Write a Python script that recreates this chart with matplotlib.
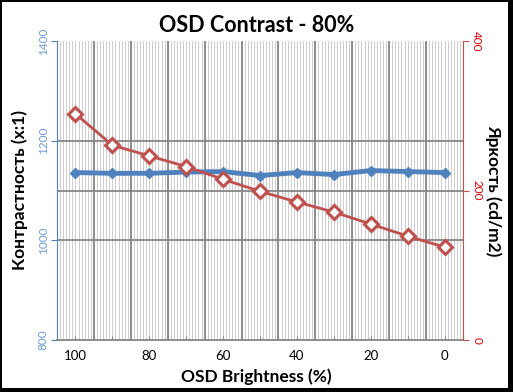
import numpy as np
import matplotlib.pyplot as plt
from matplotlib.patches import Rectangle
from matplotlib.ticker import FixedLocator

plt.rcParams['font.family'] = ['Lato', 'DejaVu Sans']

# data
brightness = [100, 90, 80, 70, 60, 50, 40, 30, 20, 10, 0]
contrast = [1136, 1134.5, 1134.5, 1137, 1138, 1130, 1136, 1132, 1140, 1138, 1136]
luminance = [302.6, 260.6, 246.3, 232, 215, 198.9, 184.6, 171.2, 155.1, 139, 124.3]
tick_labels = ['100', '', '80', '', '60', '', '40', '', '20', '', '0']

blue = '#4f81bd'
red = '#c0504d'
gridc = '#868686'

fig = plt.figure(figsize=(5.13, 3.92), dpi=100)
fig.patch.set_facecolor('black')
fig.patches.append(Rectangle((2 / 513, 4 / 392), 506 / 513, 386 / 392,
                             transform=fig.transFigure, facecolor='white',
                             edgecolor='none', zorder=-10))

ax = fig.add_axes([57 / 513, 1 - 340 / 392, 406 / 513, 299 / 392])
ax.set_facecolor('white')
x = np.arange(len(brightness))
ax.set_xlim(-0.5, len(x) - 0.5)
ax.set_ylim(800, 1400)

# dense light vertical lines + darker category separators
for xm in np.arange(-0.5, len(x) - 0.5, 1 / 12):
    ax.axvline(xm, color='#cdcdcd', lw=0.7, zorder=0)
for xb in np.arange(0.5, len(x) - 0.5, 1):
    ax.axvline(xb, color=gridc, lw=1.3, zorder=0.5)
for yg in [1000, 1100, 1200]:
    ax.axhline(yg, color=gridc, lw=1.3, zorder=0.5)

ax.plot(x, contrast, color=blue, lw=3.5, marker='D', ms=5.5, mfc=blue, mec=blue, zorder=3)

ax.set_xticks(x)
ax.set_xticklabels(tick_labels, fontsize=9.5)
ax.tick_params(axis='x', direction='in', length=3, color=gridc, pad=7)
ax.yaxis.set_major_locator(FixedLocator([800, 1000, 1200, 1400]))
ax.tick_params(axis='y', direction='out', length=4, color=blue, labelcolor='#6a9be0',
               labelsize=8.5, pad=2)
for lab in ax.get_yticklabels():
    lab.set_rotation(90)
    lab.set_va('center')

for s in ['top', 'right']:
    ax.spines[s].set_visible(False)
ax.spines['left'].set_color(blue)
ax.spines['bottom'].set_color(gridc)
ax.spines['bottom'].set_linewidth(1.3)

ax2 = ax.twinx()
ax2.set_ylim(0, 400)
ax2.plot(x, luminance, color=red, lw=2, marker='D', ms=7.5, mfc='white', mec=red,
         mew=2.2, zorder=4)
ax2.yaxis.set_major_locator(FixedLocator([0, 200, 400]))
ax2.tick_params(axis='y', direction='out', length=4, color=red, labelcolor='#dd0000',
                labelsize=8.5, pad=2)
for lab in ax2.get_yticklabels():
    lab.set_rotation(-90)
    lab.set_va('center')
for s in ['top', 'left', 'bottom']:
    ax2.spines[s].set_visible(False)
ax2.spines['right'].set_color(red)

fig.text(0.5, 1 - 26 / 392, 'OSD Contrast - 80%', ha='center', va='center',
         fontsize=15.5, fontweight='bold')
fig.text(0.5, 1 - 377 / 392, 'OSD Brightness (%)', ha='center', va='center',
         fontsize=12.5, fontweight='bold')
fig.text(20 / 513, 1 - 190 / 392, 'Контрастность (x:1)', ha='center', va='center',
         rotation=90, fontsize=12.5, fontweight='bold')
fig.text(493 / 513, 1 - 191 / 392, 'Яркость (cd/m2)', ha='center', va='center',
         rotation=-90, fontsize=12.5, fontweight='bold')

fig.savefig('out.png', dpi=100, facecolor=fig.get_facecolor())
